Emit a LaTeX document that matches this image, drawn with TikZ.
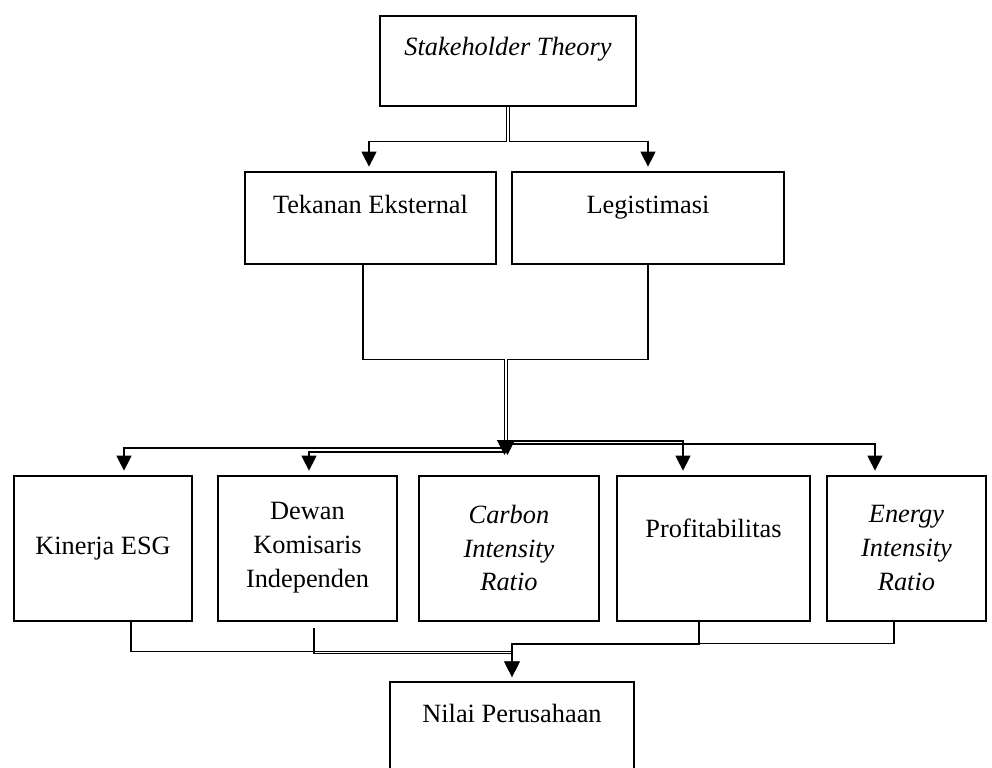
\documentclass[tikz,border=0pt]{standalone}
\usepackage{fontspec}
\setmainfont{Liberation Serif}
\usetikzlibrary{arrows.meta,calc}

\tikzset{
  kotak/.style={draw, line width=1.1pt, inner sep=0pt},
  teks/.style={inner sep=0pt, align=center, font=\fontsize{15}{19.3}\selectfont},
  garis/.style={line width=0.6pt, -{Triangle[width=0.3cm,length=0.3cm]}, shorten >=2.5pt},
}

\begin{document}
\begin{tikzpicture}[x=0.02cm,y=-0.02cm]
        \useasboundingbox (0,0) rectangle (992,768);
        % kotak
        \node[kotak, minimum width=5.12cm, minimum height=1.8cm] (st) at (508,61) {};
        \node[kotak, minimum width=5.02cm, minimum height=1.84cm] (tek) at (370.5,218) {};
        \node[kotak, minimum width=5.44cm, minimum height=1.84cm] (leg) at (648,218) {};
        \node[kotak, minimum width=3.56cm, minimum height=2.9cm] (kin) at (103,548.5) {};
        \node[kotak, minimum width=3.58cm, minimum height=2.9cm] (dew) at (307.5,548.5) {};
        \node[kotak, minimum width=3.6cm, minimum height=2.9cm] (car) at (509,548.5) {};
        \node[kotak, minimum width=3.86cm, minimum height=2.9cm] (pro) at (713.5,548.5) {};
        \node[kotak, minimum width=3.18cm, minimum height=2.9cm] (ene) at (906.5,548.5) {};
        \node[kotak, minimum width=4.88cm, minimum height=2.4cm] (nilai) at (512,742) {};
        % teks
        \node[teks, anchor=base] (stT) at (508,55) {\textit{Stakeholder Theory}};
        \node[teks, anchor=base] (tekT) at (370.5,213) {Tekanan Eksternal};
        \node[teks, anchor=base] (legT) at (648,213) {Legistimasi};
        \node[teks, anchor=base] (kinT) at (103,554) {Kinerja ESG};
        \node[teks] (dewT) at (307.5,548) {Dewan\\Komisaris\\Independen};
        \node[teks] (carT) at (509,548) {\textit{Carbon}\\\textit{Intensity}\\\textit{Ratio}};
        \node[teks, anchor=base] (proT) at (713.5,537) {Profitabilitas};
        \node[teks] (eneT) at (906.5,548) {\textit{Energy}\\\textit{Intensity}\\\textit{Ratio}};
        \node[teks, anchor=base] (nilaiT) at (512,722) {Nilai Perusahaan};
        % panah
        \coordinate (hub) at (506,455);
        \draw[garis] ($(st.south)+(-1.5,0)$) -- ++(0,35) -| ($(tek.north)+(-1.5,0)$);
        \draw[garis] ($(st.south)+(1.5,0)$) -- ++(0,35) -| (leg.north);
        \draw[garis, shorten >=0pt] ($(tek.south)+(-7.5,0)$) -- ++(0,95) -| ($(hub)+(-1.5,0)$);
        \draw[garis, shorten >=0pt] (leg.south) -- ++(0,95) -| ($(hub)+(1.5,0)$);
        \draw[garis] ($(hub)+(0,-7)$) -| ($(kin.north)+(21,0)$);
        \draw[garis] ($(hub)+(0,-3)$) -| ($(dew.north)+(1.5,0)$);
        \draw[garis] ($(hub)+(0,-14)$) -| ($(pro.north)+(-30.5,0)$);
        \draw[garis] ($(hub)+(0,-11)$) -| ($(ene.north)+(-31.5,0)$);
        \draw[garis] ($(kin.south)+(28,0)$) -- ++(0,30) -| (nilai.north);
        \draw[garis] ($(dew.south)+(6.5,6)$) -- ++(0,26) -| (nilai.north);
        \draw[garis] ($(pro.south)+(-14.5,0)$) -- ++(0,23) -| (nilai.north);
        \draw[garis] ($(ene.south)+(-12.5,0)$) -- ++(0,22) -| (nilai.north);
      \end{tikzpicture}
\end{document}
